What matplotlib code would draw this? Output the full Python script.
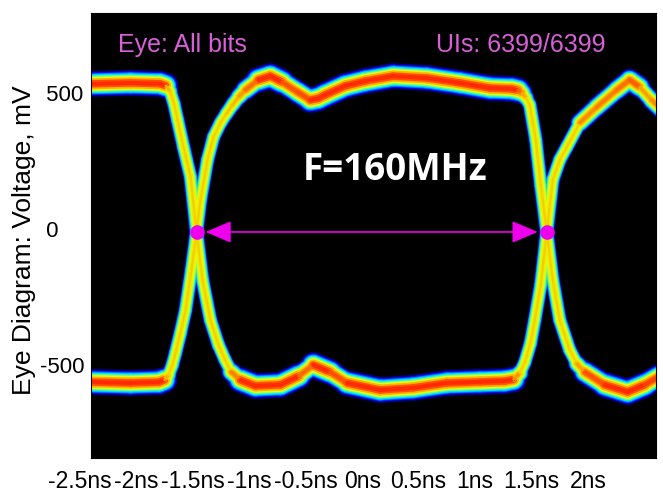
import numpy as np
import matplotlib
matplotlib.use("Agg")
import matplotlib.pyplot as plt
from matplotlib.collections import LineCollection
from matplotlib.colors import to_rgba

# trace A: high on the left, falls at the left crossing, low through the eye,
# rises at the right crossing (time in ns, voltage in mV)
t_a = [-2.45, -2.05, -1.79, -1.74, -1.70, -1.665, -1.634, -1.581, -1.519, -1.466,
       -1.413, -1.343, -1.272, -1.215, -1.160, -1.078, -0.945, -0.724, -0.560, -0.433,
       -0.283, -0.133, 0.159, 0.451, 0.751, 1.042, 1.263, 1.340, 1.395, 1.440,
       1.490, 1.528, 1.581, 1.634, 1.687, 1.750, 1.811, 1.926, 2.076, 2.253,
       2.367, 2.456, 2.562, 2.65]
v_a = [533, 537, 534, 527, 506, 460, 401, 301, 191, -11,
       -187, -335, -426, -480, -525, -555, -577, -573, -540, -500,
       -526, -566, -592, -584, -566, -562, -559, -553, -530, -490,
       -420, -335, -206, -11, 180, 255, 301, 390, 448, 511,
       548, 522, 474, 440]

# trace B: low on the left, rises at the left crossing, high through the eye,
# falls at the right crossing
t_b = [-2.45, -2.049, -1.80, -1.75, -1.714, -1.680, -1.652, -1.608, -1.563, -1.511,
       -1.466, -1.431, -1.369, -1.316, -1.254, -1.200, -1.148, -1.090, -1.034, -0.919,
       -0.813, -0.707, -0.574, -0.459, -0.390, -0.327, -0.150, 0.027, 0.274, 0.574,
       0.866, 1.131, 1.325, 1.380, 1.413, 1.450, 1.484, 1.537, 1.581, 1.634,
       1.687, 1.749, 1.837, 1.900, 1.970, 2.147, 2.350, 2.500, 2.65]
v_b = [-562, -566, -563, -555, -537, -500, -456, -382, -298, -151,
       -11, 107, 254, 338, 390, 425, 456, 487, 511, 548,
       562, 540, 504, 474, 480, 493, 526, 544, 562, 555,
       537, 518, 515, 510, 500, 482, 456, 327, 162, -11,
       -187, -335, -445, -495, -526, -573, -599, -573, -537]

cross_t = [-1.466, 1.634]
cross_v = [-11, -11]

x_ticks = [-2.5, -2, -1.5, -1, -0.5, 0, 0.5, 1, 1.5, 2]
x_labels = ['-2.5ns', '-2ns', '-1.5ns', '-1ns', '-0.5ns', '0ns', '0.5ns', '1ns', '1.5ns', '2ns']
y_ticks = [500, 0, -500]
y_labels = [' 500', ' 0', '-500']

# density look: (flat width px, flat colour, steep width px, steep colour), outer to inner
layers = [
    (26, '#000080', 15, '#000090'),
    (23, '#0010ff', 13.5, '#0040ff'),
    (21, '#0080ff', 12.5, '#00b0ff'),
    (19, '#00e0ff', 11, '#20e8c0'),
    (16.5, '#60ff90', 9.5, '#80ff60'),
    (14, '#e0ff10', 7.5, '#d8ff20'),
    (11, '#ffb000', 5.5, '#f0f000'),
    (7.5, '#ff5000', 3.5, '#f8e400'),
    (4, '#ff2a00', 2, '#f0d000'),
]

DPI = 100
fig = plt.figure(figsize=(6.63, 4.98), dpi=DPI)
ax = fig.add_axes([0.1373, 0.0803, 0.852, 0.8936])
ax.set_facecolor('black')
ax.set_xlim(-2.4, 2.6)
ax.set_ylim(-842, 794)


def steepness(t, v):
    d = ax.transData.transform(np.column_stack([t, v]))
    dx = np.diff(d[:, 0])
    dy = np.diff(d[:, 1])
    s = np.abs(dy) / np.hypot(dx, dy)
    return np.clip((s - 0.45) / 0.4, 0, 1)


curves = [(t_a, v_a), (t_b, v_b)]
weights = [steepness(t, v) for t, v in curves]
px2pt = 72.0 / DPI

for fw, fc, sw, sc in layers:
    c0 = np.array(to_rgba(fc))
    c1 = np.array(to_rgba(sc))
    for (t, v), w in zip(curves, weights):
        pts = np.column_stack([t, v])
        segs = np.stack([pts[:-1], pts[1:]], axis=1)
        cols = c0[None, :] * (1 - w[:, None]) + c1[None, :] * w[:, None]
        lws = (fw * (1 - w) + sw * w) * px2pt
        lc = LineCollection(segs, colors=cols, linewidths=lws, capstyle='round',
                            joinstyle='round')
        ax.add_collection(lc)

# eye opening marker
mag = '#ee00ee'
ax.annotate('', xy=(cross_t[1], cross_v[1]), xytext=(cross_t[0], cross_v[0]),
            arrowprops=dict(arrowstyle='<|-|>,head_length=0.4,head_width=0.17',
                            mutation_scale=40, color=mag, lw=1.2,
                            shrinkA=6.5, shrinkB=6.5), zorder=5)
ax.plot(cross_t, cross_v, 'o', color=mag, markersize=9.5, zorder=6)

ax.text(0.048, 0.928, 'Eye: All bits', transform=ax.transAxes, color='#d860d8',
        fontsize=18, family='Liberation Sans', va='center', ha='left')
ax.text(0.911, 0.928, 'UIs: 6399/6399', transform=ax.transAxes, color='#d860d8',
        fontsize=18, family='Liberation Sans', va='center', ha='right')
ax.text(0.539, 0.647, 'F=160MHz', transform=ax.transAxes, color='white',
        fontsize=26.5, family='Open Sans', fontweight='bold', va='center', ha='center')

# axis labels
ax.set_xticks([])
for xt, lab in zip(x_ticks, x_labels):
    ax.text(xt, -0.027, lab, transform=ax.get_xaxis_transform(), ha='center', va='top',
            fontsize=16.5, family='Liberation Sans', clip_on=False)

ax.set_yticks(y_ticks)
ax.set_yticklabels(y_labels, family='Liberation Sans', fontsize=16)
ax.tick_params(axis='y', length=0, pad=36.5)
for lab in ax.get_yticklabels():
    lab.set_horizontalalignment('left')

ax.set_ylabel('Eye Diagram: Voltage, mV', fontsize=19, family='Liberation Sans')
ax.yaxis.set_label_coords(-0.097, 0.49)

for sp in ax.spines.values():
    sp.set_color('black')

fig.savefig('out.png', dpi=DPI)
